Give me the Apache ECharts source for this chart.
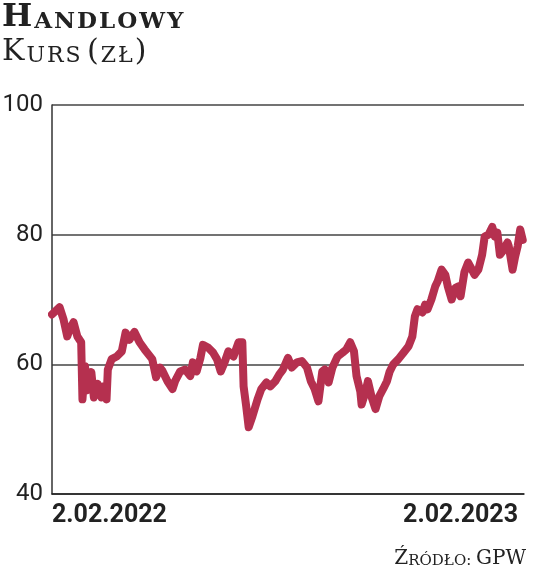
<!DOCTYPE html>
<html>
<head>
<meta charset="utf-8">
<script src="https://cdn.jsdelivr.net/npm/echarts@6/dist/echarts.min.js"></script>
<style>
html,body{margin:0;padding:0;background:#fff;}
#c{width:536px;height:572px;}
</style>
</head>
<body>
<div id="c"></div>
<script>
// Day offsets from 2.02.2022
const days = [0,6,9,12,14,17,20,23,24,26,28,31,33,36,39,41,43,44,47,51,55,58,61,65,69,73,79,82,85,87,91,95,97,101,105,109,111,114,117,119,123,127,130,133,136,139,143,147,150,151,153,155,158,162,165,169,172,176,179,182,186,189,193,197,201,204,207,210,213,215,218,221,225,229,232,235,238,240,243,244,247,249,252,255,258,261,264,266,269,273,277,281,284,286,288,292,294,296,299,302,304,307,310,312,315,318,320,322,325,328,331,333,336,339,341,344,347,349,351,353,355,359,360,363,365,367,369,371];
// Closing price (zł)
const prices = [67.7,68.8,67,64.3,65.4,66.5,64.3,63.4,54.6,59.7,56,58.8,54.9,57,54.9,56.6,54.6,59.2,60.8,61.2,62,64.9,63.8,65,63.4,62.3,60.8,58,59.5,59,57.4,56.2,57.4,58.9,59.2,58.2,60.3,58.9,61,63,62.6,61.8,60.8,58.9,60.3,62,61.2,63.4,63.4,56.6,53.6,50.3,52,54.6,56.2,57.2,56.6,57.4,58.4,59.2,61,59.5,60.3,60.5,59.5,57.4,56.2,54.3,58.9,59.2,57.2,59.5,61.2,61.8,62.3,63.4,62,58.2,55.8,53.8,55.7,57.4,54.9,53.1,55.1,56.2,57.4,58.8,60,60.8,61.8,62.8,64.3,67.4,68.5,68,69.2,68.5,70,72,72.8,74.6,73.8,72,70,71.8,72,70.5,74.2,75.7,74.6,73.8,74.6,76.9,79.7,80,81.2,79.7,80.3,76.9,77.4,78.8,78.2,74.6,76.6,78.2,80.8,79.2];
const yTicks = [40, 60, 80, 100];
const xTickDays = [0, 372];
const xTickLabels = ['2.02.2022', '2.02.2023'];

const chart = echarts.init(document.getElementById('c'), null, {renderer: 'canvas'});
const serif = '"DejaVu Serif", "Liberation Serif", serif';
const numFont = 'Roboto, "Liberation Sans", sans-serif';
function spaced(word, style) {
  return word.split('').map(function (ch) { return '{' + style + '|' + ch + '}'; }).join('');
}
const capBold = {fontFamily: serif, fontWeight: 'bold', fill: '#222', verticalAlign: 'bottom'};
const capReg = {fontFamily: serif, fill: '#222', verticalAlign: 'bottom'};
chart.setOption({
  animation: false,
  backgroundColor: '#ffffff',
  grid: {left: 52, right: 12, top: 105, bottom: 78, containLabel: false, outerBoundsMode: 'none'},
  xAxis: {
    type: 'value', min: 0, max: 372,
    axisLine: {show: true, lineStyle: {color: '#222', width: 1.5}},
    axisTick: {show: false},
    splitLine: {show: false},
    axisLabel: {
      customValues: xTickDays,
      formatter: function (v) { const i = xTickDays.indexOf(v); return i >= 0 ? xTickLabels[i] : ''; },
      alignMinLabel: 'left', alignMaxLabel: 'right',
      padding: [0, 6, 0, 0],
      margin: 9,
      color: '#222', fontSize: 25, fontWeight: 'bold', fontFamily: numFont
    }
  },
  yAxis: {
    type: 'value', min: 40, max: 100, interval: 20,
    axisLine: {show: true, lineStyle: {color: '#333', width: 1.5}},
    axisTick: {show: false},
    splitLine: {show: true, lineStyle: {color: '#444', width: 1.5}},
    axisLabel: {
      formatter: function (v) { return yTicks.indexOf(v) >= 0 ? String(v) : ''; },
      margin: 9, color: '#222', fontSize: 24, fontFamily: numFont
    }
  },
  series: [{
    type: 'line',
    data: days.map(function (d, i) { return [d, prices[i]]; }),
    showSymbol: false,
    lineStyle: {color: '#b5304f', width: 8, cap: 'round', join: 'round'},
    z: 5
  }],
  graphic: [
    {type: 'text', left: 2, top: 2, style: {
      text: '{a|H}' + spaced('ANDLOWY', 'b'), rich: {
        a: Object.assign({fontSize: 32, padding: [0, 2, 0, 0]}, capBold),
        b: Object.assign({fontSize: 23, padding: [0, 2, 0, 0]}, capBold)
      }}},
    {type: 'text', left: 2, top: 37, style: {
      text: '{a|K}' + spaced('URS', 'b') + '{s| }{a|(}' + spaced('ZŁ', 'b') + '{a|)}', rich: {
        a: Object.assign({fontSize: 30, padding: [0, 2, 0, 0]}, capReg),
        b: Object.assign({fontSize: 22, padding: [0, 2, 0, 0]}, capReg),
        s: Object.assign({fontSize: 14}, capReg)
      }}},
    {type: 'text', right: 10, top: 549, style: {
      text: '{a|Ź}{b|RÓDŁO: }{a|GPW}', rich: {
        a: Object.assign({fontSize: 20}, capReg),
        b: Object.assign({fontSize: 15}, capReg)
      }}}
  ]
});
</script>
</body>
</html>
